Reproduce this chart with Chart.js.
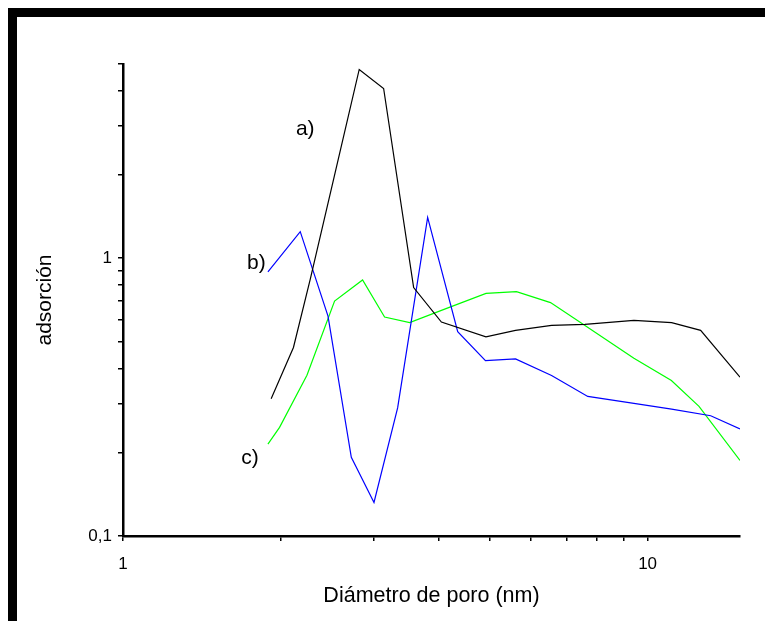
<!DOCTYPE html>
<html>
<head>
<meta charset="utf-8">
<title>Distribución de poros</title>
<script src="https://cdn.jsdelivr.net/npm/chart.js@4.4.1/dist/chart.umd.min.js"></script>
<style>
  html, body { margin: 0; padding: 0; background: #fff; }
</style>
</head>
<body>
<canvas id="poreChart" width="765" height="621"></canvas>
<script>
// pore diameter (nm) and adsorption for each sample
const diamA = [1.916, 2.113, 2.275, 2.527, 2.820, 3.139, 3.581, 4.045, 4.918, 5.600, 6.560, 7.593, 9.416, 11.11, 12.62, 15.0];
const adsA  = [0.312, 0.477, 0.841, 1.967, 4.78, 4.08, 0.784, 0.589, 0.521, 0.550, 0.573, 0.578, 0.597, 0.586, 0.550, 0.373];

const diamB = [1.889, 2.177, 2.459, 2.724, 3.009, 3.338, 3.808, 4.345, 4.908, 5.600, 6.560, 7.690, 9.416, 11.11, 13.19, 15.0];
const adsB  = [0.892, 1.246, 0.619, 0.192, 0.132, 0.289, 1.403, 0.544, 0.428, 0.434, 0.378, 0.318, 0.300, 0.286, 0.271, 0.243];

const diamC = [1.889, 1.988, 2.242, 2.531, 2.862, 3.152, 3.519, 4.045, 4.920, 5.623, 6.530, 7.584, 9.416, 11.10, 12.53, 15.0];
const adsC  = [0.214, 0.246, 0.379, 0.701, 0.835, 0.614, 0.586, 0.649, 0.747, 0.758, 0.692, 0.573, 0.436, 0.363, 0.293, 0.187];

// axis ticks and their labels
const xTicks = [1, 2, 3, 4, 5, 6, 7, 8, 9, 10];
const xTickText = ['1', '', '', '', '', '', '', '', '', '10'];
const yTicks = [0.1, 0.2, 0.3, 0.4, 0.5, 0.6, 0.7, 0.8, 0.9, 1, 2, 3, 4, 5];
const yTickText = ['0,1', '', '', '', '', '', '', '', '', '1', '', '', '', ''];

// curve labels, placed in data coordinates
const noteText = ['a)', 'b)', 'c)'];
const noteX = [2.225, 1.795, 1.747];
const noteY = [2.92, 0.96, 0.19];

const FONT = "'Liberation Sans', Arial, sans-serif";

function toPoints(xs, ys) {
    return xs.map((x, i) => ({ x: x, y: ys[i] }));
}

// thick black frame on the top and left edges
const framePlugin = {
    id: 'frame',
    beforeDraw(chart) {
        const ctx = chart.ctx;
        ctx.save();
        ctx.fillStyle = '#000';
        ctx.fillRect(8, 8, chart.width - 8, 9);
        ctx.fillRect(8, 8, 9, chart.height - 8);
        ctx.restore();
    }
};

// a), b), c) next to the curves
const notesPlugin = {
    id: 'notes',
    afterDatasetsDraw(chart) {
        const ctx = chart.ctx;
        const sx = chart.scales.x, sy = chart.scales.y;
        ctx.save();
        ctx.fillStyle = '#000';
        ctx.font = '21px ' + FONT;
        ctx.textAlign = 'center';
        ctx.textBaseline = 'middle';
        noteText.forEach((t, i) => {
            ctx.fillText(t, sx.getPixelForValue(noteX[i]), sy.getPixelForValue(noteY[i]));
        });
        ctx.restore();
    }
};

const ctx = document.getElementById('poreChart').getContext('2d');
new Chart(ctx, {
    type: 'line',
    data: {
        datasets: [
            { label: 'a)', data: toPoints(diamA, adsA), borderColor: '#000000' },
            { label: 'b)', data: toPoints(diamB, adsB), borderColor: '#0000ff' },
            { label: 'c)', data: toPoints(diamC, adsC), borderColor: '#00ff00' }
        ]
    },
    options: {
        responsive: false,
        animation: false,
        devicePixelRatio: 1,
        layout: { padding: { left: 0, top: 64, right: 25, bottom: 0 } },
        elements: {
            point: { radius: 0 },
            line: { borderWidth: 1.2, tension: 0, fill: false }
        },
        plugins: {
            legend: { display: false },
            tooltip: { enabled: false }
        },
        scales: {
            x: {
                type: 'logarithmic',
                position: 'bottom',
                min: 1,
                max: 15,
                afterBuildTicks: s => { s.ticks = xTicks.map(v => ({ value: v })); },
                afterFit: s => { s.height = 85; },
                grid: { drawOnChartArea: false, drawTicks: true, tickLength: 5, color: '#000', lineWidth: 1.5 },
                border: { display: true, color: '#000', width: 2.5 },
                ticks: {
                    color: '#000',
                    font: { family: FONT, size: 17 },
                    autoSkip: false,
                    maxRotation: 0,
                    padding: 13,
                    callback: (v, i) => xTickText[i]
                },
                title: {
                    display: true,
                    text: 'Diámetro de poro (nm)',
                    color: '#000',
                    font: { family: FONT, size: 21.5 },
                    padding: { top: 0, bottom: 12 }
                }
            },
            y: {
                type: 'logarithmic',
                position: 'left',
                min: 0.1,
                max: 5,
                afterBuildTicks: s => { s.ticks = yTicks.map(v => ({ value: v })); },
                afterFit: s => { s.width = 123; },
                grid: { drawOnChartArea: false, drawTicks: true, tickLength: 5, color: '#000', lineWidth: 1.5 },
                border: { display: true, color: '#000', width: 2.5 },
                ticks: {
                    color: '#000',
                    font: { family: FONT, size: 17 },
                    autoSkip: false,
                    padding: 6,
                    callback: (v, i) => yTickText[i]
                },
                title: {
                    display: true,
                    text: 'adsorción',
                    color: '#000',
                    font: { family: FONT, size: 21 },
                    padding: { top: 33, bottom: 0 }
                }
            }
        }
    },
    plugins: [framePlugin, notesPlugin]
});
</script>
</body>
</html>
